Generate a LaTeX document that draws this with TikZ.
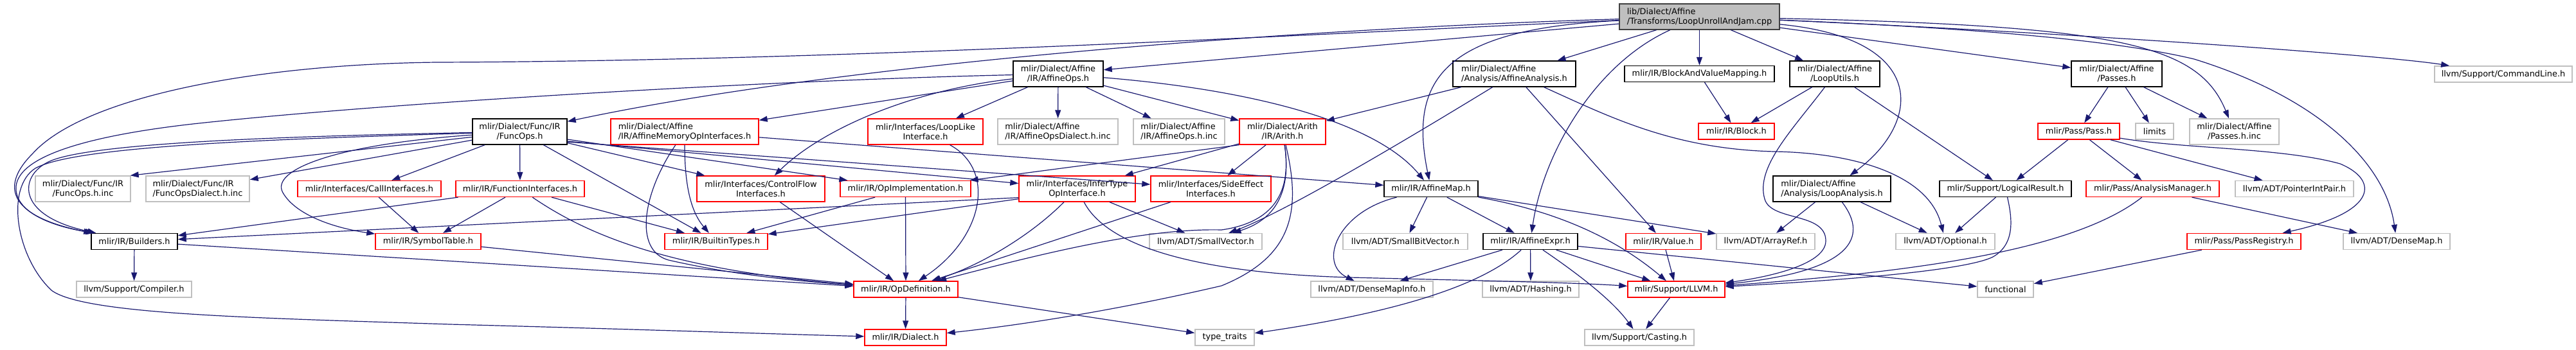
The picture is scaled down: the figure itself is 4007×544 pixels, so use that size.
\documentclass[tikz,border=0pt]{standalone}
\usepackage{fontspec}
\setmainfont{DejaVu Sans}
\usetikzlibrary{arrows.meta,calc}
\definecolor{edgec}{HTML}{191970}
\definecolor{greyb}{HTML}{BFBFBF}
\definecolor{rootb}{HTML}{404040}
\definecolor{redb}{HTML}{FF0000}
\begin{document}
\begin{tikzpicture}[x=1pt,y=-1pt,
 nb/.style={draw, line width=1.4pt, inner sep=0pt, font=\fontsize{12.9}{15}\selectfont},
 s1/.style={nb, minimum height=25pt},
 s2/.style={nb, minimum height=40pt},
 kb/.style={draw=black},
 rb/.style={draw=redb},
 gb/.style={draw=greyb},
 al/.style={align=left},
 ac/.style={align=center},
 e/.style={draw=edgec, line width=1.2pt, -{Triangle[length=13pt,width=9pt]}},
]
\useasboundingbox (0,0) rectangle (4007,544);

% root
\node[s2,fill=greyb,draw=rootb,al,minimum width=249pt] (root) at (2643.5,26) {lib/Dialect/Affine\\/Transforms/LoopUnrollAndJam.cpp};
% row 1
\node[s2,kb,ac,minimum width=140pt] (aops) at (1646,115) {mlir/Dialect/Affine\\/IR/AffineOps.h};
\node[s2,kb,al,minimum width=191pt] (aana) at (2355.5,115) {mlir/Dialect/Affine\\/Analysis/AffineAnalysis.h};
\node[s1,kb,minimum width=233pt] (bvm) at (2643.5,115) {mlir/IR/BlockAndValueMapping.h};
\node[s2,kb,ac,minimum width=140pt] (lutil) at (2854,115) {mlir/Dialect/Affine\\/LoopUtils.h};
\node[s2,kb,ac,minimum width=141pt] (passes) at (3292.5,115) {mlir/Dialect/Affine\\/Passes.h};
\node[s1,gb,minimum width=214pt] (cmdl) at (3894,115.5) {llvm/Support/CommandLine.h};
% row 2
\node[s2,kb,ac,minimum width=147pt] (fops) at (808.5,205) {mlir/Dialect/Func/IR\\/FuncOps.h};
\node[s2,rb,al,minimum width=230pt] (amem) at (1065,205) {mlir/Dialect/Affine\\/IR/AffineMemoryOpInterfaces.h};
\node[s2,rb,ac,minimum width=179pt] (loopl) at (1439.5,205) {mlir/Interfaces/LoopLike\\Interface.h};
\node[s2,gb,al,minimum width=187pt] (aopsd) at (1645.5,205) {mlir/Dialect/Affine\\/IR/AffineOpsDialect.h.inc};
\node[s2,gb,al,minimum width=142pt] (aopsinc) at (1834,205) {mlir/Dialect/Affine\\/IR/AffineOps.h.inc};
\node[s2,rb,ac,minimum width=134pt] (arith) at (1995,205) {mlir/Dialect/Arith\\/IR/Arith.h};
\node[s1,rb,minimum width=118pt] (block) at (2701,204.5) {mlir/IR/Block.h};
\node[s1,rb,minimum width=127pt] (pass) at (3233.5,204.5) {mlir/Pass/Pass.h};
\node[s1,gb,minimum width=59pt] (limits) at (3351.5,204.5) {limits};
\node[s2,gb,ac,minimum width=139pt] (passinc) at (3475.5,205) {mlir/Dialect/Affine\\/Passes.h.inc};
% row 3
\node[s2,gb,ac,minimum width=148pt] (fopsinc) at (129,294) {mlir/Dialect/Func/IR\\/FuncOps.h.inc};
\node[s2,gb,al,minimum width=161pt] (fopsd) at (307.5,294) {mlir/Dialect/Func/IR\\/FuncOpsDialect.h.inc};
\node[s1,rb,minimum width=223pt] (calli) at (574.5,294) {mlir/Interfaces/CallInterfaces.h};
\node[s1,rb,minimum width=200pt] (funci) at (809,294) {mlir/IR/FunctionInterfaces.h};
\node[s2,rb,ac,minimum width=199pt] (cfi) at (1183.5,294) {mlir/Interfaces/ControlFlow\\Interfaces.h};
\node[s1,rb,minimum width=203pt] (opimpl) at (1408.5,294) {mlir/IR/OpImplementation.h};
\node[s2,rb,ac,minimum width=181pt] (infer) at (1675.5,294) {mlir/Interfaces/InferType\\OpInterface.h};
\node[s2,rb,ac,minimum width=187pt] (side) at (1883.5,294) {mlir/Interfaces/SideEffect\\Interfaces.h};
\node[s1,kb,minimum width=146pt] (amap) at (2226,294) {mlir/IR/AffineMap.h};
\node[s2,kb,al,minimum width=183pt] (lana) at (2849.5,294) {mlir/Dialect/Affine\\/Analysis/LoopAnalysis.h};
\node[s1,kb,minimum width=205pt] (logres) at (3119.5,294) {mlir/Support/LogicalResult.h};
\node[s1,rb,minimum width=207pt] (anam) at (3348.5,294) {mlir/Pass/AnalysisManager.h};
\node[s1,gb,minimum width=184pt] (pip) at (3569,294) {llvm/ADT/PointerIntPair.h};
% row 4
\node[s1,kb,minimum width=134pt] (build) at (209,376) {mlir/IR/Builders.h};
\node[s1,rb,minimum width=164pt] (symt) at (666,376) {mlir/IR/SymbolTable.h};
\node[s1,rb,minimum width=160pt] (btypes) at (1114,376) {mlir/IR/BuiltinTypes.h};
\node[s1,gb,minimum width=175pt] (svec) at (1875.5,376) {llvm/ADT/SmallVector.h};
\node[s1,gb,minimum width=194pt] (sbv) at (2186,376) {llvm/ADT/SmallBitVector.h};
\node[s1,kb,minimum width=147pt] (aexpr) at (2380.5,376) {mlir/IR/AffineExpr.h};
\node[s1,rb,minimum width=117pt] (value) at (2587.5,376) {mlir/IR/Value.h};
\node[s1,gb,minimum width=153pt] (aref) at (2746.5,376) {llvm/ADT/ArrayRef.h};
\node[s1,gb,minimum width=154pt] (opt) at (3026,376) {llvm/ADT/Optional.h};
\node[s1,rb,minimum width=177pt] (preg) at (3490.5,376) {mlir/Pass/PassRegistry.h};
\node[s1,gb,minimum width=166pt] (dmap) at (3728,376) {llvm/ADT/DenseMap.h};
% row 5
\node[s1,gb,minimum width=179pt] (comp) at (208.5,450.5) {llvm/Support/Compiler.h};
\node[s1,rb,minimum width=162pt] (opdef) at (1409,450.5) {mlir/IR/OpDefinition.h};
\node[s1,gb,minimum width=190pt] (dmi) at (2134,450.5) {llvm/ADT/DenseMapInfo.h};
\node[s1,gb,minimum width=150pt] (hash) at (2381,450.5) {llvm/ADT/Hashing.h};
\node[s1,rb,minimum width=151pt] (llvm) at (2607.5,450.5) {mlir/Support/LLVM.h};
\node[s1,gb,minimum width=87pt] (func) at (3119.5,450.5) {functional};
% row 6
\node[s1,rb,minimum width=127pt] (dial) at (1408.5,525.5) {mlir/IR/Dialect.h};
\node[s1,gb,minimum width=92pt] (tt) at (1905,525.5) {type\_traits};
\node[s1,gb,minimum width=170pt] (cast) at (2550,525.5) {llvm/Support/Casting.h};

% ---- edges from root
\draw[e] (root) -- (bvm);
\draw[e] (root) -- (aana);
\draw[e] (root) -- (lutil);
\draw[e] (root) -- (aops);
\draw[e] (root) .. controls (2000,45) and (1300,100) .. (fops);
\draw[e] (root) .. controls (2000,55) and (1300,95) .. (680,97) .. controls (400,100) and (130,150) .. (50,240) .. controls (5,285) and (5,335) .. ($(build.north west)+(2,0)$);
\draw[e] (root) .. controls (2250,45) and (2190,120) .. (amap);
\draw[e] (root) .. controls (2480,100) and (2400,240) .. (aexpr);
\draw[e] (root) .. controls (3000,60) and (2990,190) .. (lana);
\draw[e] (root) -- (passes);
\draw[e] (root) .. controls (3300,40) and (3420,70) .. (passinc);
\draw[e] (root) .. controls (3100,45) and (3300,65) .. (3413,92) .. controls (3600,150) and (3710,250) .. (dmap);
\draw[e] (root) .. controls (3200,50) and (3700,85) .. (cmdl);

% ---- AffineOps.h
\draw[e] (aops) -- (loopl);
\draw[e] (aops) -- (aopsd);
\draw[e] (aops) -- (aopsinc);
\draw[e] (aops) -- (arith);
\draw[e] (aops) .. controls (1950,140) and (2140,190) .. (amap);
\draw[e] (aops) -- (amem);
\draw[e] (aops) .. controls (1420,140) and (1280,200) .. (cfi);
\draw[e] (aops) .. controls (1200,125) and (600,160) .. (300,193) .. controls (150,210) and (30,240) .. (25,290) .. controls (22,330) and (80,352) .. ($(build.north west)+(5,0)$);

% ---- FuncOps.h
\draw[e] (fops) .. controls (450,212) and (150,222) .. (80,250) .. controls (30,270) and (20,335) .. ($(build.north west)+(8,0)$);
\draw[e] (fops) .. controls (450,216) and (120,226) .. (55,262) .. controls (8,292) and (25,400) .. (80,452) .. controls (130,490) and (400,495) .. (700,505) .. controls (1000,513) and (1200,520) .. (dial);
\draw[e] (fops) .. controls (520,225) and (420,265) .. (440,300) .. controls (460,335) and (520,355) .. (symt);
\draw[e] (fops) -- ($(fopsinc.north east)+(-1,0)$);
\draw[e] (fops) -- (fopsd);
\draw[e] (fops) -- (calli);
\draw[e] (fops) -- (funci);
\draw[e] (fops) -- (btypes);
\draw[e] (fops) -- (cfi);
\draw[e] ($(fops.east)+(0,12)$) -- (opimpl);
\draw[e] ($(fops.east)+(0,15)$) -- (infer);
\draw[e] ($(fops.east)+(0,16)$) -- (side);

% ---- AffineMemoryOpInterfaces.h
\draw[e] (amem) -- (amap);
\draw[e] (amem) .. controls (1000,300) and (985,390) .. (1040,405) .. controls (1150,430) and (1250,438) .. (opdef);
\draw[e] (amem) .. controls (1065,290) and (1075,330) .. (btypes);

% ---- interfaces
\draw[e] (loopl) .. controls (1550,265) and (1530,370) .. (opdef);
\draw[e] (cfi) -- (opdef);
\draw[e] (opimpl) -- (opdef);
\draw[e] (opimpl) -- (btypes);
\draw[e] ($(infer.south west)+(0,-7)$) -- (build);
\draw[e] ($(infer.south west)+(0,-5)$) -- (btypes);
\draw[e] (infer) .. controls (1600,370) and (1520,415) .. (opdef);
\draw[e] (infer) -- (svec);
\draw[e] (infer) .. controls (1720,380) and (1850,425) .. (2100,432) .. controls (2300,437) and (2450,440) .. (llvm);
\draw[e] (side) -- (opdef);

% ---- Arith.h
\draw[e] (arith.south west) -- (opimpl);
\draw[e] (arith) -- (infer);
\draw[e] (arith) -- (side);
\draw[e] (arith) .. controls (2008,290) and (1990,340) .. (svec);
\draw[e] (arith) .. controls (2008,290) and (1990,345) .. (1900,358) .. controls (1780,355) and (1620,395) .. (opdef);
\draw[e] (arith) .. controls (2025,330) and (2010,400) .. (1900,445) .. controls (1750,480) and (1600,505) .. (dial);

% ---- AffineAnalysis.h
\draw[e] (aana) -- (arith);
\draw[e] (aana) .. controls (2200,210) and (2000,330) .. (svec);
\draw[e] (aana) -- (value);
\draw[e] (aana) .. controls (2500,180) and (2600,232) .. (2760,236) .. controls (2880,238) and (3000,270) .. (opt);

% ---- BlockAndValueMapping, LoopUtils, LoopAnalysis
\draw[e] ($(bvm.south)+(8,0)$) -- (block);
\draw[e] (lutil) -- (block);
\draw[e] (lutil) .. controls (2790,200) and (2730,260) .. (2745,310) .. controls (2755,345) and (2840,330) .. (2840,375) .. controls (2840,410) and (2760,430) .. ($(llvm.east)+(0,-10)$);
\draw[e] (lutil) -- (logres);
\draw[e] (lana) -- (aref);
\draw[e] (lana) .. controls (2900,360) and (2900,420) .. (llvm);
\draw[e] (lana) -- (opt);

% ---- Passes
\draw[e] (passes) -- (pass);
\draw[e] (passes) -- (limits);
\draw[e] (passes) -- (passinc);
\draw[e] (pass) -- (logres);
\draw[e] (pass) -- (anam);
\draw[e] (pass) -- (pip);
\draw[e] (pass) .. controls (3400,232) and (3550,230) .. (3640,255) .. controls (3700,280) and (3700,330) .. (preg);
\draw[e] (anam) .. controls (3220,395) and (2950,425) .. (llvm);
\draw[e] (anam) -- (dmap);
\draw[e] (preg) -- (func);
\draw[e] (logres) -- (opt);
\draw[e] (logres) .. controls (3130,340) and (3135,380) .. (3100,400) .. controls (3050,425) and (2800,440) .. (llvm);

% ---- IR
\draw[e] (value) -- (llvm);
\draw[e] (amap) .. controls (2080,330) and (2050,410) .. (dmi);
\draw[e] (amap) -- (sbv);
\draw[e] (amap) -- (aexpr);
\draw[e] (amap) .. controls (2400,325) and (2500,360) .. (llvm);
\draw[e] (amap) -- (aref);
\draw[e] (aexpr) -- (dmi);
\draw[e] (aexpr) .. controls (2300,450) and (2150,490) .. (tt);
\draw[e] (aexpr) -- (hash);
\draw[e] (aexpr) .. controls (2460,430) and (2510,470) .. (cast);
\draw[e] (aexpr) -- (llvm);
\draw[e] (aexpr) -- (func);
\draw[e] (llvm) -- (cast);
\draw[e] (opdef) -- (dial);
\draw[e] (opdef) -- (tt);
\draw[e] (build) -- (comp);
\draw[e] (build) -- (opdef);
\draw[e] (symt) -- (opdef);
\draw[e] (calli) -- (symt);
\draw[e] (funci) -- (build);
\draw[e] (funci) -- (symt);
\draw[e] (funci) .. controls (920,370) and (1050,420) .. (opdef);
\draw[e] (funci) -- (btypes);
\end{tikzpicture}
\end{document}
